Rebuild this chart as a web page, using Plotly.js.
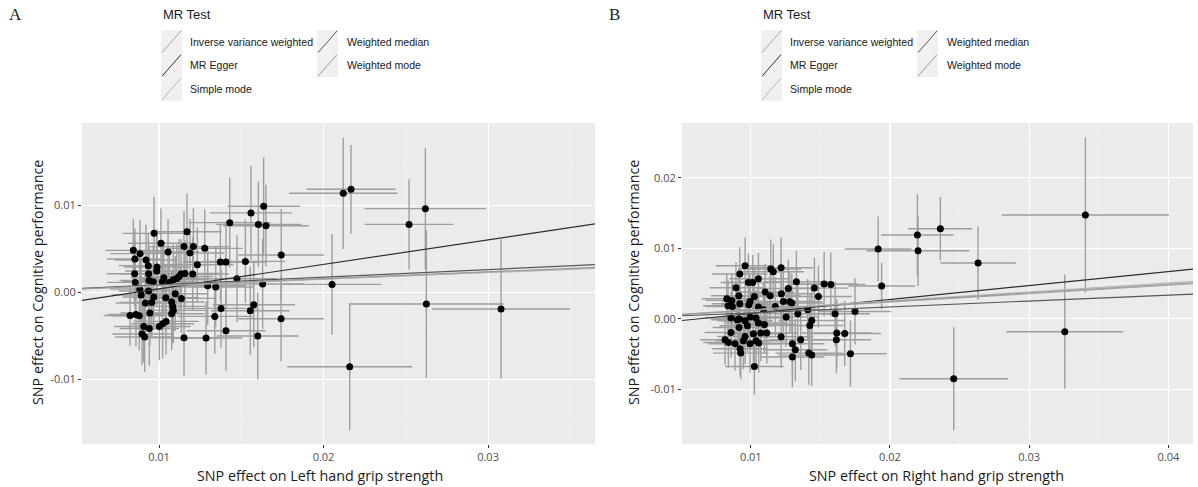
<!DOCTYPE html>
<html><head><meta charset="utf-8">
<script src="https://cdn.plot.ly/plotly-3.0.1.min.js"></script>
<style>html,body{margin:0;padding:0;background:#fff;}#chart{width:1198px;height:487px;}</style>
</head><body><div id="chart"></div>
<script>
// ---------------- data ----------------
const methods = ['Inverse variance weighted','MR Egger','Simple mode','Weighted median','Weighted mode'];
const methodColors = ['#a8a8a8','#2e2e2e','#b8b8b8','#585858','#9c9c9c'];

// Panel A: Left hand grip strength
const aBetaX = [0.00970,0.01012,0.01170,0.01055,0.00844,0.00885,0.00854,0.00921,0.00935,0.00988,
0.00986,0.00852,0.00937,0.01029,0.00856,0.00939,0.00965,0.01020,0.01063,0.01087,
0.01108,0.01122,0.01134,0.01158,0.01205,0.01152,0.01209,0.01188,0.01233,0.01278,
0.00883,0.00937,0.00892,0.00968,0.00956,0.00917,0.01041,0.01099,0.01136,0.01077,
0.01083,0.01087,0.01077,0.00824,0.00860,0.00880,0.00945,0.00907,0.00941,0.01002,
0.01022,0.01043,0.00897,0.00913,0.01152,0.01286,0.01296,0.01345,0.01373,0.01407,
0.01377,0.01339,0.01407,0.01430,0.01525,0.01474,0.01559,0.01604,0.01636,0.01650,
0.01630,0.01576,0.01555,0.01600,0.01743,0.01742,
0.02120,0.02167,0.02619,0.02520,0.02052,0.02625,0.03079,0.02159];
const aBetaY = [0.00680,0.00565,0.00699,0.00465,0.00484,0.00446,0.00385,0.00373,0.00308,0.00293,
0.00247,0.00215,0.00215,0.00169,0.00115,0.00138,0.00123,0.00120,0.00115,0.00146,
0.00161,0.00184,0.00212,0.00219,0.00212,0.00527,0.00527,0.00454,0.00319,0.00507,
0.00039,0.00016,-0.00030,-0.00053,-0.00115,-0.00122,-0.00061,-0.00015,-0.00069,-0.00111,
-0.00161,-0.00207,-0.00245,-0.00265,-0.00253,-0.00268,-0.00237,-0.00392,-0.00415,-0.00392,
-0.00361,-0.00334,-0.00479,-0.00514,-0.00522,-0.00525,0.00077,0.00062,0.00350,0.00350,
-0.00184,-0.00276,-0.00441,0.00803,0.00357,0.00158,0.00915,0.00783,0.00991,0.00768,
0.00097,-0.00142,-0.00211,-0.00502,0.00431,-0.00303,
0.01141,0.01187,0.00964,0.00783,0.00092,-0.00134,-0.00191,-0.00856];
const aSeX = [0.0019,0.0020,0.0021,0.0019,0.0017,0.0018,0.0017,0.0019,0.0018,0.0020,
0.0019,0.0017,0.0018,0.0020,0.0017,0.0018,0.0019,0.0020,0.0020,0.0021,
0.0021,0.0021,0.0022,0.0021,0.0022,0.0021,0.0022,0.0021,0.0022,0.0023,
0.0018,0.0018,0.0018,0.0019,0.0019,0.0018,0.0020,0.0020,0.0021,0.0020,
0.0020,0.0020,0.0020,0.0016,0.0017,0.0017,0.0018,0.0018,0.0018,0.0019,
0.0019,0.0020,0.0018,0.0018,0.0021,0.0022,0.0023,0.0023,0.0023,0.0024,
0.0023,0.0023,0.0024,0.0025,0.0024,0.0024,0.0025,0.0026,0.0022,0.0026,
0.0025,0.0025,0.0024,0.0025,0.0026,0.0026,
0.0033,0.0027,0.0037,0.0027,0.0030,0.0047,0.0042,0.0038];
const aSeY = [0.0042,0.0040,0.0044,0.0038,0.0036,0.0039,0.0035,0.0041,0.0037,0.0043,
0.0040,0.0038,0.0036,0.0041,0.0037,0.0039,0.0042,0.0040,0.0038,0.0041,
0.0039,0.0043,0.0040,0.0038,0.0042,0.0041,0.0044,0.0039,0.0043,0.0045,
0.0037,0.0040,0.0042,0.0038,0.0041,0.0036,0.0039,0.0043,0.0040,0.0037,
0.0041,0.0038,0.0042,0.0035,0.0037,0.0040,0.0038,0.0041,0.0043,0.0039,
0.0040,0.0038,0.0036,0.0040,0.0044,0.0042,0.0045,0.0046,0.0044,0.0047,
0.0045,0.0043,0.0046,0.0052,0.0048,0.0050,0.0054,0.0049,0.0056,0.0047,
0.0052,0.0049,0.0051,0.0050,0.0053,0.0049,
0.0064,0.0051,0.0070,0.0052,0.0058,0.0085,0.0080,0.0073];
// MR estimates (slope, intercept) in the order of `methods`
const aSlopes = [0.0770,0.2822,0.0760,0.0874,0.0790];
const aIntercepts = [0,-0.00242,0,0,0];

// Panel B: Right hand grip strength
const bBetaX = [0.00959,0.00921,0.01144,0.01162,0.01218,0.01055,0.00983,0.01014,0.00894,0.01103,
0.01139,0.01220,0.01270,0.00828,0.00864,0.00914,0.01026,0.00995,0.00837,0.00868,
0.00921,0.00986,0.01055,0.01091,0.01177,0.01234,0.00858,0.00904,0.00918,0.00959,
0.00995,0.01038,0.01055,0.01098,0.00976,0.00916,0.01115,0.01072,0.01019,0.00858,
0.01218,0.00959,0.00947,0.00815,0.00839,0.00887,0.00995,0.01038,0.01057,0.00923,
0.00928,0.01026,0.01328,0.01527,0.01575,0.01457,0.01486,0.01295,0.01280,0.01338,
0.01254,0.01606,0.01749,0.01438,0.01424,0.01618,0.01675,0.01615,0.01359,0.01299,
0.01320,0.01299,0.01417,0.01438,0.01716,0.01409,
0.01915,0.01940,0.02197,0.02202,0.02362,0.02633,0.03404,0.03256,0.02458];
const bBetaY = [0.00752,0.00634,0.00705,0.00667,0.00723,0.00567,0.00515,0.00515,0.00440,0.00379,
0.00326,0.00355,0.00430,0.00284,0.00260,0.00326,0.00316,0.00245,0.00184,0.00174,
0.00213,0.00199,0.00166,0.00128,0.00174,0.00245,0.00010,-0.00014,-0.00004,-0.00028,
0.00024,0.00010,-0.00061,-0.00081,-0.00099,-0.00123,-0.00203,-0.00203,-0.00213,-0.00194,
-0.00255,-0.00251,-0.00312,-0.00298,-0.00336,-0.00355,-0.00355,-0.00312,-0.00345,-0.00426,
-0.00487,-0.00677,0.00525,0.00492,0.00487,0.00435,0.00316,0.00223,0.00241,0.00071,
0.00024,0.00071,0.00104,-0.00024,-0.00095,-0.00203,-0.00209,-0.00298,-0.00298,-0.00355,
-0.00440,-0.00543,-0.00487,-0.00515,-0.00496,0.00128,
0.00989,0.00464,0.01187,0.00965,0.01277,0.00790,0.01471,-0.00184,-0.00851];
const bSeX = [0.0021,0.0020,0.0022,0.0022,0.0023,0.0021,0.0020,0.0021,0.0019,0.0021,
0.0022,0.0023,0.0023,0.0018,0.0019,0.0020,0.0021,0.0020,0.0018,0.0019,
0.0020,0.0020,0.0021,0.0021,0.0022,0.0023,0.0019,0.0019,0.0020,0.0020,
0.0021,0.0021,0.0021,0.0022,0.0020,0.0019,0.0022,0.0021,0.0021,0.0019,
0.0023,0.0020,0.0020,0.0018,0.0018,0.0019,0.0020,0.0021,0.0021,0.0020,
0.0020,0.0021,0.0023,0.0024,0.0025,0.0024,0.0024,0.0023,0.0023,0.0023,
0.0023,0.0025,0.0026,0.0024,0.0024,0.0025,0.0026,0.0025,0.0023,0.0023,
0.0023,0.0023,0.0024,0.0024,0.0026,0.0024,
0.0024,0.0024,0.0026,0.0037,0.0023,0.0027,0.0060,0.0042,0.0039];
const bSeY = [0.0040,0.0038,0.0042,0.0039,0.0043,0.0037,0.0041,0.0039,0.0036,0.0040,
0.0038,0.0042,0.0041,0.0035,0.0037,0.0039,0.0040,0.0038,0.0036,0.0037,
0.0039,0.0041,0.0040,0.0038,0.0042,0.0043,0.0037,0.0038,0.0039,0.0041,
0.0040,0.0039,0.0041,0.0042,0.0038,0.0037,0.0043,0.0040,0.0041,0.0036,
0.0044,0.0039,0.0040,0.0035,0.0036,0.0038,0.0041,0.0040,0.0042,0.0038,
0.0037,0.0040,0.0044,0.0046,0.0045,0.0043,0.0044,0.0042,0.0043,0.0041,
0.0042,0.0046,0.0047,0.0044,0.0045,0.0048,0.0046,0.0047,0.0043,0.0042,
0.0044,0.0043,0.0045,0.0044,0.0047,0.0044,
0.0046,0.0033,0.0058,0.0050,0.0045,0.0052,0.0110,0.0081,0.0073];
const bSlopes = [0.1188,0.1986,0.1266,0.0838,0.1220];
const bIntercepts = [0,-0.00125,0,0,0];

// ticks
const aXTicks = [0.01,0.02,0.03], aXTickText = ['0.01','0.02','0.03'];
const aYTicks = [-0.01,0,0.01], aYTickText = ['-0.01','0.00','0.01'];
const bXTicks = [0.01,0.02,0.03,0.04], bXTickText = ['0.01','0.02','0.03','0.04'];
const bYTicks = [-0.01,0,0.01,0.02], bYTickText = ['-0.01','0.00','0.01','0.02'];

const aXTitle = 'SNP effect on Left hand grip strength';
const bXTitle = 'SNP effect on Right hand grip strength';
const yTitle = 'SNP effect on Cognitive performance';
const legendTitle = 'MR Test';

// ---------------- layout helpers ----------------
const W = 1198, H = 487;
const PX = p => p / W, PY = p => 1 - p / H;
const aRangeX = [0.00532, 0.0365], aRangeY = [-0.01745, 0.0195];
const bRangeX = [0.00506, 0.04177], bRangeY = [-0.01776, 0.02776];

function minorVals(t) {
  const s = t[1] - t[0], out = [t[0] - s / 2];
  for (let i = 0; i < t.length; i++) out.push(t[i] + s / 2);
  return out;
}

const traces = [];
function addPanel(bx, by, sx, sy, slopes, ints, rx, xa, ya) {
  traces.push({
    type: 'scatter', mode: 'markers', x: bx, y: by, xaxis: xa, yaxis: ya,
    marker: {color: '#000', size: 7},
    error_x: {type: 'data', array: sx, visible: true, color: '#9e9e9e', thickness: 1.4, width: 0},
    error_y: {type: 'data', array: sy, visible: true, color: '#9e9e9e', thickness: 1.4, width: 0},
    showlegend: false, hoverinfo: 'x+y'
  });
  methods.forEach((m, i) => {
    traces.push({
      type: 'scatter', mode: 'lines', name: m, xaxis: xa, yaxis: ya,
      x: [rx[0], rx[1]], y: [ints[i] + slopes[i] * rx[0], ints[i] + slopes[i] * rx[1]],
      line: {color: methodColors[i], width: 1.2}, showlegend: false
    });
  });
}
addPanel(aBetaX, aBetaY, aSeX, aSeY, aSlopes, aIntercepts, aRangeX, 'x', 'y');
addPanel(bBetaX, bBetaY, bSeX, bSeY, bSlopes, bIntercepts, bRangeX, 'x2', 'y2');

const tickFont = {family: 'Open Sans', size: 11, color: '#4d4d4d'};
function axis(domain, range, tv, tt, anchor) {
  return {
    domain: domain, range: range, anchor: anchor, tickmode: 'array', tickvals: tv, ticktext: tt,
    showgrid: true, gridcolor: '#ffffff', gridwidth: 1.1, zeroline: false, showline: false,
    ticks: 'outside', ticklen: 3, tickwidth: 1, tickcolor: '#333333', tickfont: tickFont,
    minor: {tickmode: 'array', tickvals: minorVals(tv), showgrid: true, gridcolor: '#f4f4f4', gridwidth: 0.6, ticks: ''},
    automargin: false, fixedrange: true
  };
}
const yDom = [PY(444), PY(123)];

const annotations = [], shapes = [];
const titleFont = {family: 'Open Sans', size: 14.3, color: '#1a1a1a'};
function panelDecor(offset, label, xTitle, xTitleCenter, yTitleX) {
  annotations.push({xref: 'paper', yref: 'paper', x: PX(offset + 7), y: PY(15), xanchor: 'left', yanchor: 'middle',
    text: label, showarrow: false, font: {family: 'Liberation Serif', size: 17, color: '#222'}});
  annotations.push({xref: 'paper', yref: 'paper', x: PX(xTitleCenter), y: PY(475), xanchor: 'center', yanchor: 'middle',
    text: xTitle, showarrow: false, font: titleFont});
  annotations.push({xref: 'paper', yref: 'paper', x: PX(yTitleX), y: PY(283), xanchor: 'center', yanchor: 'middle',
    text: yTitle, textangle: -90, showarrow: false, font: titleFont});
  // legend
  annotations.push({xref: 'paper', yref: 'paper', x: PX(offset + 161), y: PY(15), xanchor: 'left', yanchor: 'middle',
    text: legendTitle, showarrow: false, font: {family: 'Liberation Sans', size: 13, color: '#1a1a1a'}});
  const colKey = [offset + 161, offset + 317], colTxt = [offset + 188, offset + 345];
  const rowTop = 30, rowH = 23.6;
  methods.forEach((m, i) => {
    const c = Math.floor(i / 3), r = i % 3;
    const x0 = colKey[c], x1 = x0 + 21, y0 = rowTop + r * rowH, y1 = y0 + rowH;
    shapes.push({type: 'rect', xref: 'paper', yref: 'paper', x0: PX(x0), x1: PX(x1), y0: PY(y1), y1: PY(y0),
      fillcolor: '#f0f0f0', line: {width: 0}, layer: 'below'});
    shapes.push({type: 'line', xref: 'paper', yref: 'paper', x0: PX(x0 + 1), y0: PY(y1 - 1), x1: PX(x1 - 1), y1: PY(y0 + 1),
      line: {color: methodColors[i], width: 1}});
    annotations.push({xref: 'paper', yref: 'paper', x: PX(colTxt[c]), y: PY(y0 + rowH / 2), xanchor: 'left', yanchor: 'middle',
      text: m, showarrow: false, font: {family: 'Liberation Sans', size: 10.6, color: '#1a1a1a'}});
  });
}
panelDecor(0, 'A', aXTitle, 320, 37);
panelDecor(600, 'B', bXTitle, 936, 633);

const layout = {
  width: W, height: H, margin: {l: 0, r: 0, t: 0, b: 0},
  paper_bgcolor: '#ffffff', plot_bgcolor: '#ebebeb', showlegend: false,
  xaxis: axis([PX(82), PX(595)], aRangeX, aXTicks, aXTickText, 'y'),
  yaxis: axis(yDom, aRangeY, aYTicks, aYTickText, 'x'),
  xaxis2: axis([PX(682), PX(1193)], bRangeX, bXTicks, bXTickText, 'y2'),
  yaxis2: axis(yDom, bRangeY, bYTicks, bYTickText, 'x2'),
  annotations: annotations, shapes: shapes
};
Plotly.newPlot('chart', traces, layout, {displayModeBar: false, staticPlot: true});
</script>
</body></html>
